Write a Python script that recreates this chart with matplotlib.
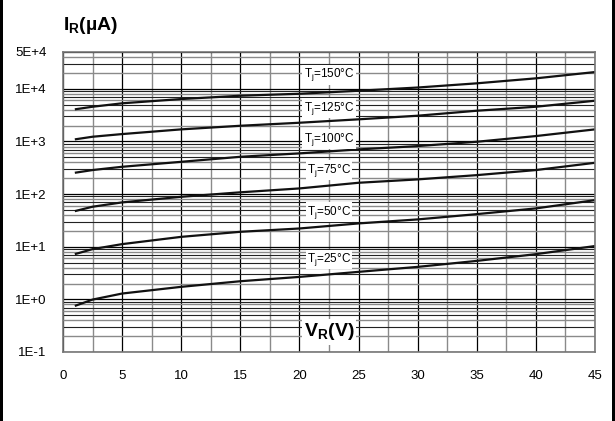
import numpy as np
import matplotlib
matplotlib.use("Agg")
import matplotlib.pyplot as plt
from matplotlib.ticker import LogLocator, NullFormatter, MultipleLocator
from matplotlib.patches import Rectangle

plt.rcParams['font.family'] = ['Liberation Sans', 'DejaVu Sans']
plt.rcParams['mathtext.fontset'] = 'custom'
plt.rcParams['mathtext.rm'] = 'Liberation Sans'
plt.rcParams['mathtext.it'] = 'Liberation Sans'
plt.rcParams['mathtext.bf'] = 'Liberation Sans:bold'

# reverse voltage (V)
vr = [1, 2.5, 5, 10, 15, 20, 25, 30, 35, 40, 45]

# reverse current (uA) per junction temperature
ir_150 = [4070, 4560, 5300, 6390, 7380, 8050, 9180, 10570, 12700, 15800, 20800]
ir_125 = [1094, 1228, 1380, 1695, 1985, 2265, 2630, 3080, 3830, 4560, 5930]
ir_100 = [254, 286, 330, 410, 511, 593, 706, 816, 986, 1265, 1695]
ir_75 = [47.4, 57.5, 69.5, 88.8, 108, 128, 164, 190, 229, 286, 393]
ir_50 = [7.22, 9.0, 11.2, 15.4, 19.2, 22.2, 27.7, 33.0, 41.6, 53.4, 76.7]
ir_25 = [0.75, 0.99, 1.29, 1.73, 2.21, 2.67, 3.33, 4.14, 5.38, 7.22, 10.3]

curves = [ir_150, ir_125, ir_100, ir_75, ir_50, ir_25]
labels = ["T$_j$=150°C", "T$_j$=125°C", "T$_j$=100°C",
          "T$_j$=75°C", "T$_j$=50°C", "T$_j$=25°C"]
label_y = [18300, 4300, 1110, 286, 45.4, 5.73]
label_x = 22.5

yticks = [0.1, 1, 10, 100, 1e3, 1e4, 5e4]
ytick_labels = ["1E-1", "1E+0", "1E+1", "1E+2", "1E+3", "1E+4", "5E+4"]
xticks = [0, 5, 10, 15, 20, 25, 30, 35, 40, 45]

fig = plt.figure(figsize=(6.15, 4.21), dpi=100)
ax = fig.add_axes([63/615, 1-352/421, 532/615, 300/421])

ax.set_yscale('log')
ax.set_ylim(0.1, 5e4)
ax.set_xlim(0, 45)
ax.set_yticks(yticks)
ax.set_yticklabels(ytick_labels)
ax.yaxis.set_minor_locator(LogLocator(base=10, subs=np.arange(2, 10)))
ax.yaxis.set_minor_formatter(NullFormatter())
ax.set_xticks(xticks)
ax.xaxis.set_minor_locator(MultipleLocator(2.5))
ax.tick_params(which='both', length=0, labelsize=9.5)
ax.tick_params(axis='y', pad=12)
ax.tick_params(axis='x', pad=13)

ax.grid(True, which='major', color='black', lw=0.9)
ax.grid(True, which='minor', color='#8a8a8a', lw=1.0)
# alternate some of the minor lines to black like the datasheet grid
for i, t in enumerate(ax.yaxis.get_minor_ticks()):
    if i % 2 == 1:
        t.gridline.set_color('#222222')
        t.gridline.set_linewidth(0.8)
ax.set_axisbelow(True)

for s in ax.spines.values():
    s.set_color('#777777')
    s.set_linewidth(1.2)

for y, lab in zip(curves, labels):
    ax.plot(vr, y, color='#111111', lw=1.6, solid_capstyle='butt')

for lab, ly in zip(labels, label_y):
    ax.text(label_x, ly, lab, ha='center', va='center', fontsize=8.5,
            bbox=dict(facecolor='white', edgecolor='none', pad=1.0))

ax.text(22.5, 0.24, r"$\mathbf{V_R(V)}$", ha='center', va='center', fontsize=14,
        bbox=dict(facecolor='white', edgecolor='none', pad=1.5))

fig.text(63/615, 1-26/421, r"$\mathbf{I_R(µA)}$", ha='left', va='center', fontsize=14)

# black side bars of the original image frame
fig.patches.append(Rectangle((0, 0), 2.5/615, 1, transform=fig.transFigure,
                             facecolor='black', edgecolor='none'))
fig.patches.append(Rectangle((1-3/615, 0), 3/615, 1, transform=fig.transFigure,
                             facecolor='black', edgecolor='none'))

fig.savefig("out.png", dpi=100)
